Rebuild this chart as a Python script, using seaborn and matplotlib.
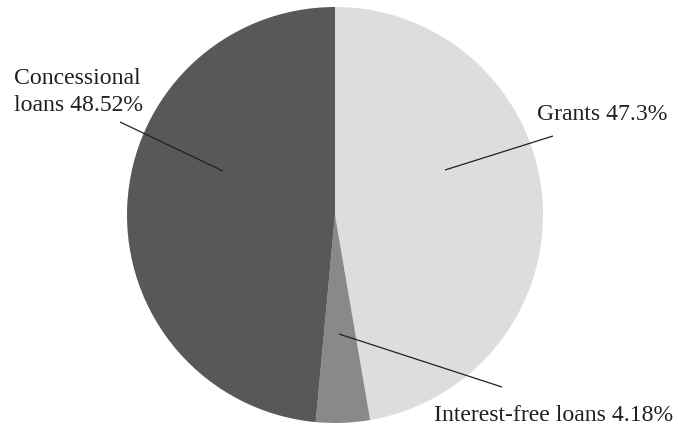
import numpy as np
import matplotlib
matplotlib.use("Agg")
import matplotlib.pyplot as plt
import seaborn as sns

# data
labels = ["Grants", "Interest-free loans", "Concessional loans"]
shares = [47.3, 4.18, 48.52]
colors = ["#dcdddd", "#898989", "#595757"]

sns.set_theme(style="white")
plt.rcParams["font.family"] = ["Liberation Serif", "DejaVu Serif"]

W, H = 678, 427
fig = plt.figure(figsize=(W / 100, H / 100), dpi=100)
ax = fig.add_axes([0, 0, 1, 1])

# pie in pixel units (y measured from bottom)
cx, cy, r = 335, H - 216, 208
ax.pie(shares, colors=colors, startangle=90, counterclock=False,
       center=(cx, cy), radius=r, wedgeprops=dict(linewidth=0))
ax.set_xlim(0, W)
ax.set_ylim(0, H)
ax.set_aspect("auto")
ax.axis("off")

txt = "#231f20"
fs = 17.1

# leader lines: inner point on the wedge, outer point near the label (pixel coords)
leaders = [
    ((445, 171), (553, 137)),
    ((339, 335), (502, 388)),
    ((223, 172), (120, 123)),
]
for (x0, y0), (x1, y1) in leaders:
    ax.plot([x0, x1], [H - y0, H - y1], color=txt, lw=0.9, solid_capstyle="butt")

ax.text(537, H - 120, f"{labels[0]} {shares[0]:g}%", fontsize=fs, color=txt,
        ha="left", va="baseline")
ax.text(434, H - 421, f"{labels[1]} {shares[1]:g}%", fontsize=fs, color=txt,
        ha="left", va="baseline")
first, second = labels[2].split(" ")
ax.text(14, H - 84, first, fontsize=fs, color=txt, ha="left", va="baseline")
ax.text(14, H - 111, f"{second} {shares[2]:g}%", fontsize=fs, color=txt,
        ha="left", va="baseline")

fig.savefig("out.png", dpi=100)
